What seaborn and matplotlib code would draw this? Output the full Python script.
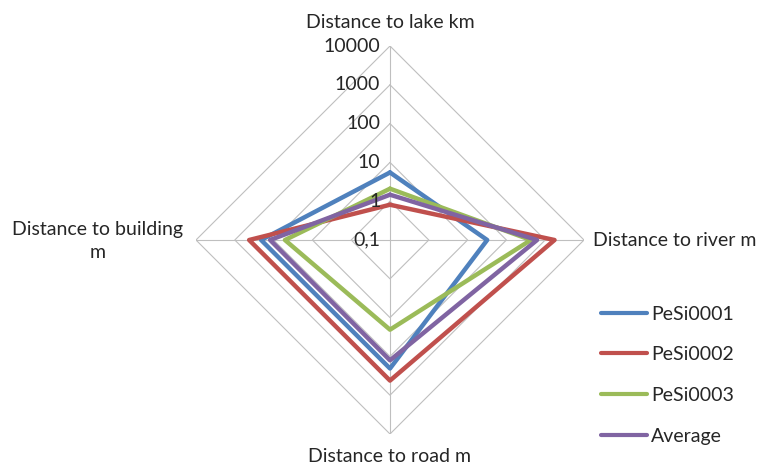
import numpy as np
import pandas as pd
import matplotlib.pyplot as plt
import seaborn as sns

# axis categories (clockwise from top)
categories = ['Distance to lake km', 'Distance to river m',
              'Distance to road m', 'Distance to building\nm']
series_names = ['PeSi0001', 'PeSi0002', 'PeSi0003', 'Average']
pesi0001 = [5.5, 32, 205, 210]
pesi0002 = [0.81, 1740, 420, 427]
pesi0003 = [2.1, 427, 20.5, 51]
average = [1.47, 617, 126, 123]
ring_values = [0.1, 1, 10, 100, 1000, 10000]
ring_labels = ['0,1', '1', '10', '100', '1000', '10000']

colors = ['#4F81BD', '#C0504D', '#9BBB59', '#8064A2']

sns.set_style('white')
plt.rcParams['font.family'] = ['Lato', 'DejaVu Sans']
FS = 14

# long table, closing each polygon by repeating the first point
angles = np.linspace(0, 2 * np.pi, len(categories), endpoint=False)
rows = []
for name, vals in zip(series_names, [pesi0001, pesi0002, pesi0003, average]):
    for i in range(len(categories) + 1):
        rows.append({'series': name, 'theta': angles[i % 4] if i < 4 else 2 * np.pi,
                     'value': vals[i % 4]})
df = pd.DataFrame(rows)

fig = plt.figure(figsize=(7.66, 4.66), dpi=100)
ax = fig.add_axes([196 / 766, 32 / 466, 388 / 766, 388 / 466], projection='polar')
ax.set_theta_zero_location('N')
ax.set_theta_direction(-1)
ax.set_rscale('log')
ax.set_rlim(0.1, 10000)

# diamond gridlines like Excel
grid_theta = np.append(angles, 2 * np.pi)
for rv in ring_values[1:]:
    ax.plot(grid_theta, [rv] * 5, color='#BFBFBF', lw=0.8, zorder=1)
for a in angles:
    ax.plot([a, a], [0.1, 10000], color='#BFBFBF', lw=0.8, zorder=1)

ax.grid(False)
ax.spines['polar'].set_visible(False)
ax.set_xticks([])
ax.set_yticks([])

sns.lineplot(data=df, x='theta', y='value', hue='series', palette=colors,
             sort=False, estimator=None, lw=3.2, ax=ax, legend=False, zorder=3)
ax.set_xlabel('')
ax.set_ylabel('')

for rv, lab in zip(ring_values, ring_labels):
    ax.annotate(lab, xy=(0, rv), xytext=(-7, 0), textcoords='offset points',
                ha='right', va='center', fontsize=FS)

# category labels
fig.text(390 / 766, 1 - 22 / 466, categories[0], ha='center', va='center', fontsize=FS)
fig.text(593 / 766, 1 - 241 / 466, categories[1], ha='left', va='center', fontsize=FS)
fig.text(390 / 766, 1 - 456 / 466, categories[2], ha='center', va='center', fontsize=FS)
fig.text(98 / 766, 1 - 241 / 466, categories[3], ha='center', va='center', fontsize=FS,
         linespacing=1.5)

handles = [plt.Line2D([], [], color=c, lw=3) for c in colors]
fig.legend(handles, series_names, loc='upper left',
           bbox_to_anchor=(583 / 766, 1 - 288 / 466), frameon=False, fontsize=FS,
           handlelength=2.4, handletextpad=0.2, labelspacing=1.22)

plt.savefig('out.png', dpi=100)
plt.close()
